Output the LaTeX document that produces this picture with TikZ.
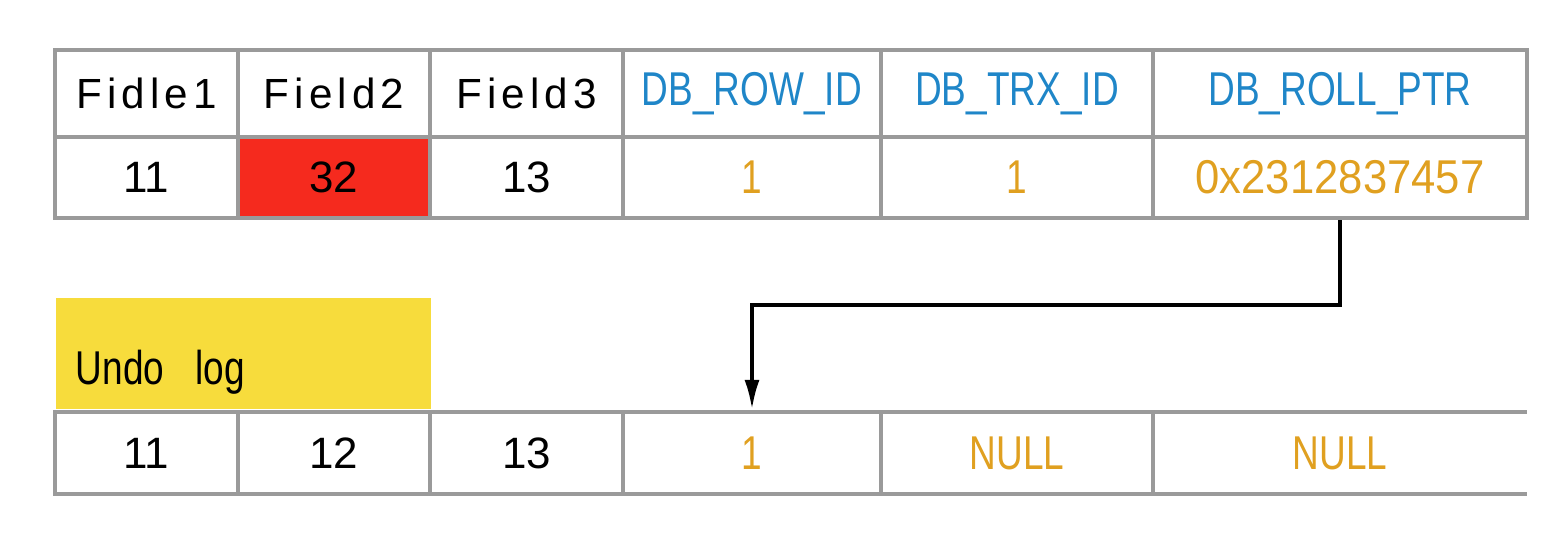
\documentclass[tikz,border=0pt]{standalone}
\usepackage{fontspec}
\setmainfont{Liberation Sans}
\newfontfamily\wideface[LetterSpace=12]{Liberation Sans}
\newfontfamily\narrowface[FakeStretch=0.78]{Liberation Sans}
\newfontfamily\hexface[FakeStretch=0.92]{Liberation Sans}
\usetikzlibrary{arrows.meta}
\definecolor{gridgray}{HTML}{9A9A9A}
\definecolor{fieldblue}{HTML}{1F86C8}
\definecolor{valorange}{HTML}{E0A020}
\definecolor{hotred}{HTML}{F52A1E}
\definecolor{undoyellow}{HTML}{F7DC3C}

\begin{document}
\begin{tikzpicture}[x=0.1mm,y=-0.1mm,
		cell/.style={draw=gridgray,line width=1.2pt,inner sep=0pt},
		head/.style={cell,minimum height=8.7mm,font=\fontsize{12}{14}\wideface},
		sys/.style={cell,minimum height=8.7mm,text=fieldblue,font=\fontsize{13.5}{16}\narrowface},
		val/.style={cell,minimum height=8.1mm,font=\fontsize{12.5}{14}\selectfont},
		sysval/.style={cell,minimum height=8.1mm,text=valorange,font=\fontsize{13.5}{16}\narrowface},
		gridline/.style={draw=gridgray,line width=1.2pt}]
	\useasboundingbox (0,0) rectangle (1548,548);
	% current row
	\node[head,minimum width=18.3mm] (f1) at (146.5,93.5) {Fidle1};
	\node[head,minimum width=19.2mm] (f2) at (334,93.5) {Field2};
	\node[head,minimum width=19.3mm] (f3) at (526.5,93.5) {Field3};
	\node[sys,minimum width=25.8mm] (rowid) at (752,93.5) {DB\_ROW\_ID};
	\node[sys,minimum width=27.2mm] (trxid) at (1017,93.5) {DB\_TRX\_ID};
	\node[sys,minimum width=37.4mm] (rollptr) at (1340,93.5) {DB\_ROLL\_PTR};
	\node[val,minimum width=18.3mm] (v1) at (146.5,177.5) {11};
	\node[val,minimum width=19.2mm,fill=hotred] (v2) at (334,177.5) {32};
	\node[val,minimum width=19.3mm] (v3) at (526.5,177.5) {13};
	\node[sysval,minimum width=25.8mm] (vrow) at (752,177.5) {1};
	\node[sysval,minimum width=27.2mm] (vtrx) at (1017,177.5) {1};
	\node[sysval,minimum width=37.4mm,font=\fontsize{13.5}{16}\hexface] (vptr) at (1340,177.5) {0x2312837457};
	% undo log
	\node[fill=undoyellow,anchor=south west,minimum width=37.5mm,inner ysep=0pt,inner xsep=2mm,
		text width=33.5mm,align=left,text height=8.6mm,text depth=2.5mm,
		font=\fontsize{13.5}{16}\narrowface] (undo) at (55,410) {Undo\ \ log};
	\node[val,minimum width=18.3mm,minimum height=8.2mm] (u1) at (146.5,453) {11};
	\node[val,minimum width=19.2mm,minimum height=8.2mm] (u2) at (334,453) {12};
	\node[val,minimum width=19.3mm,minimum height=8.2mm] (u3) at (526.5,453) {13};
	\node[sysval,minimum width=25.8mm,minimum height=8.2mm] (urow) at (752,453) {1};
	\node[sysval,minimum width=27.2mm,minimum height=8.2mm] (utrx) at (1017,453) {NULL};
	\node[sysval,minimum width=37.4mm,minimum height=8.2mm,draw=none,outer sep=0pt] (uptr) at (1340,453) {NULL};
	\draw[gridline] (uptr.north west) -- (uptr.north east) (uptr.south west) -- (uptr.south east);
	% roll pointer
	\draw[line width=1.1pt,-{Latex[length=3mm,width=1.5mm]}] (vptr.south) -- ++(0,85) -| (urow.north);
\end{tikzpicture}
\end{document}
